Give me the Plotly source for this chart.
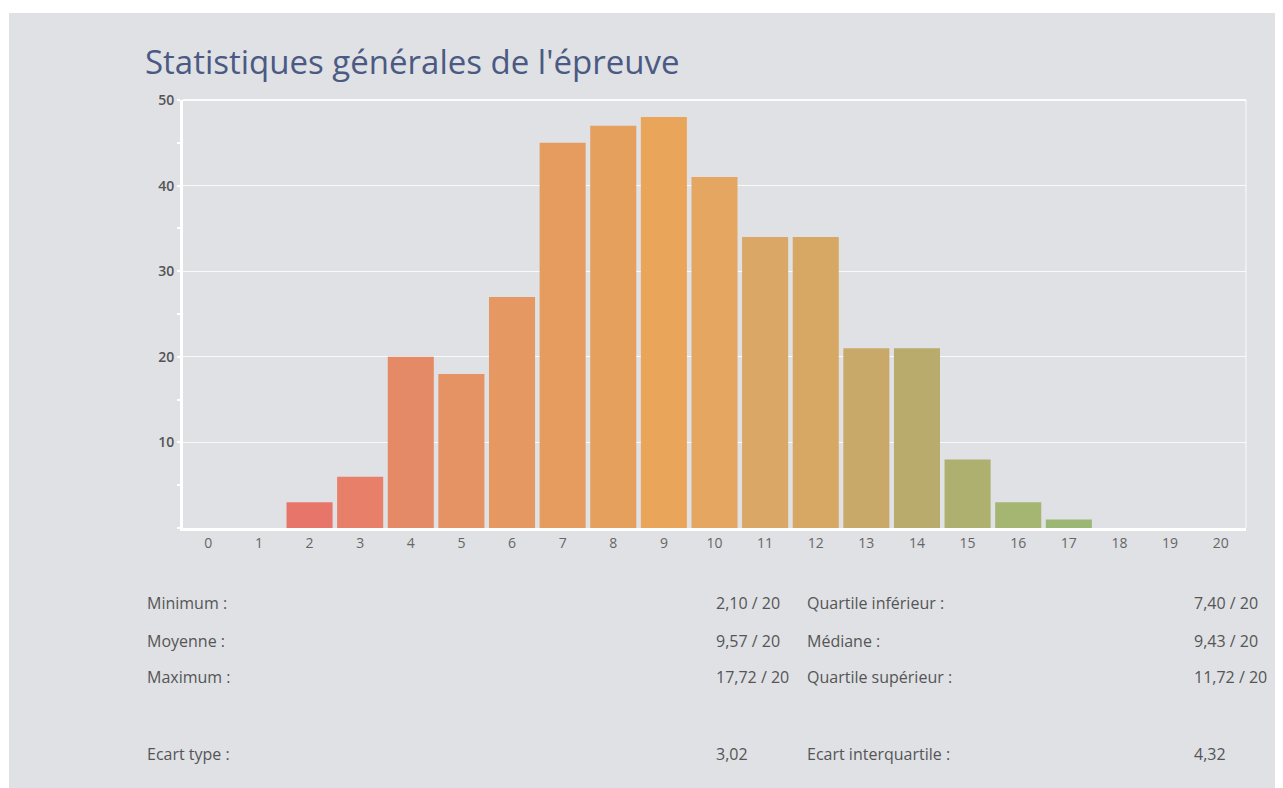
import plotly.graph_objects as go

# ---- data ----
notes = list(range(0, 21))
effectifs = [0, 0, 3, 6, 20, 18, 27, 45, 47, 48, 41, 34, 34, 21, 21, 8, 3, 1, 0, 0, 0]
y_ticks = [10, 20, 30, 40, 50]

titre = "Statistiques générales de l'épreuve"
stats_gauche_labels = ["Minimum :", "Moyenne :", "Maximum :", "Ecart type :"]
stats_gauche_valeurs = ["2,10 / 20", "9,57 / 20", "17,72 / 20", "3,02"]
stats_droite_labels = ["Quartile inférieur :", "Médiane :", "Quartile supérieur :", "Ecart interquartile :"]
stats_droite_valeurs = ["7,40 / 20", "9,43 / 20", "11,72 / 20", "4,32"]

# ---- style ----
bar_colors = ["#e8756a", "#e8756a", "#e8756a", "#e87f69", "#e58a66", "#e59265",
              "#e69863", "#e69c5f", "#e6a05e", "#e9a65b", "#e4a660", "#dba766",
              "#d6a864", "#c9a96a", "#b9ab6b", "#aeb06f", "#a5b572", "#9cb773",
              "#9cb773", "#9cb773", "#9cb773"]
BG = "#dfe1e5"
OFF = 8  # page body margin
W, H = 1283 - OFF, 788 - OFF
L, R, T, B = 183 - OFF, 1246 - OFF, 100 - OFF, 528 - OFF


def px(x):
    return (x - OFF - L) / (R - L)


def py(y):
    return (B - (y - OFF)) / (B - T)


fig = go.Figure()
fig.add_trace(go.Bar(
    x=notes, y=effectifs,
    marker=dict(color=bar_colors, line=dict(width=0)),
    hoverinfo="x+y",
))

fig.update_layout(
    width=W, height=H,
    margin=dict(l=L, r=W - R, t=T, b=H - B, pad=0),
    paper_bgcolor=BG, plot_bgcolor=BG,
    bargap=0.09,
    showlegend=False,
    font=dict(family="Open Sans", color="#555555"),
    title=dict(text=titre, x=(145 - OFF) / W, xanchor="left", xref="container",
               y=1 - (62 - OFF) / H, yanchor="middle", yref="container",
               font=dict(family="Open Sans", size=33, color="#4b5a82")),
)

fig.update_xaxes(
    range=[-0.5, 20.5], tickvals=notes, ticktext=[str(n) for n in notes],
    showgrid=False, zeroline=False,
    showline=True, linecolor="white", linewidth=3,
    ticks="", tickfont=dict(family="Open Sans", size=14, color="#666666"),
    fixedrange=True,
)
fig.update_yaxes(
    range=[0, 50], tickvals=y_ticks,
    showgrid=True, gridcolor="rgba(255,255,255,0.8)", gridwidth=1,
    zeroline=False,
    showline=True, linecolor="white", linewidth=3,
    ticks="outside", ticklen=3, tickcolor="white", tickwidth=2,
    tickfont=dict(family="Open Sans", size=14, color="#555555", weight=600),
    minor=dict(ticks="outside", ticklen=3, tickcolor="white", tickwidth=2, dtick=5, showgrid=False),
    fixedrange=True,
)

# white strips around the gray panel (top and left)
fig.add_shape(type="rect", xref="paper", yref="paper",
              x0=px(0), x1=px(1283), y0=py(0), y1=py(13),
              fillcolor="white", line=dict(width=0), layer="below")
fig.add_shape(type="rect", xref="paper", yref="paper",
              x0=px(0), x1=px(9), y0=py(0), y1=py(788),
              fillcolor="white", line=dict(width=0), layer="below")
# top gridline and faint right border of plot area
fig.add_shape(type="line", xref="paper", yref="paper",
              x0=0, x1=1, y0=1, y1=1,
              line=dict(color="rgba(255,255,255,0.9)", width=2))
fig.add_shape(type="line", xref="paper", yref="paper",
              x0=1, x1=1, y0=0, y1=1,
              line=dict(color="rgba(255,255,255,0.6)", width=1.5))

rows_y = [603, 641, 677, 754]
sfont = dict(family="Open Sans", size=16, color="#555555")
for i, yy in enumerate(rows_y):
    fig.add_annotation(x=px(145), y=py(yy), xref="paper", yref="paper",
                       text=stats_gauche_labels[i], showarrow=False,
                       xanchor="left", yanchor="middle", font=sfont)
    fig.add_annotation(x=px(714), y=py(yy), xref="paper", yref="paper",
                       text=stats_gauche_valeurs[i], showarrow=False,
                       xanchor="left", yanchor="middle", font=sfont)
    fig.add_annotation(x=px(805), y=py(yy), xref="paper", yref="paper",
                       text=stats_droite_labels[i], showarrow=False,
                       xanchor="left", yanchor="middle", font=sfont)
    fig.add_annotation(x=px(1192), y=py(yy), xref="paper", yref="paper",
                       text=stats_droite_valeurs[i], showarrow=False,
                       xanchor="left", yanchor="middle", font=sfont)

fig.write_html("out.html", config={"displayModeBar": False})
